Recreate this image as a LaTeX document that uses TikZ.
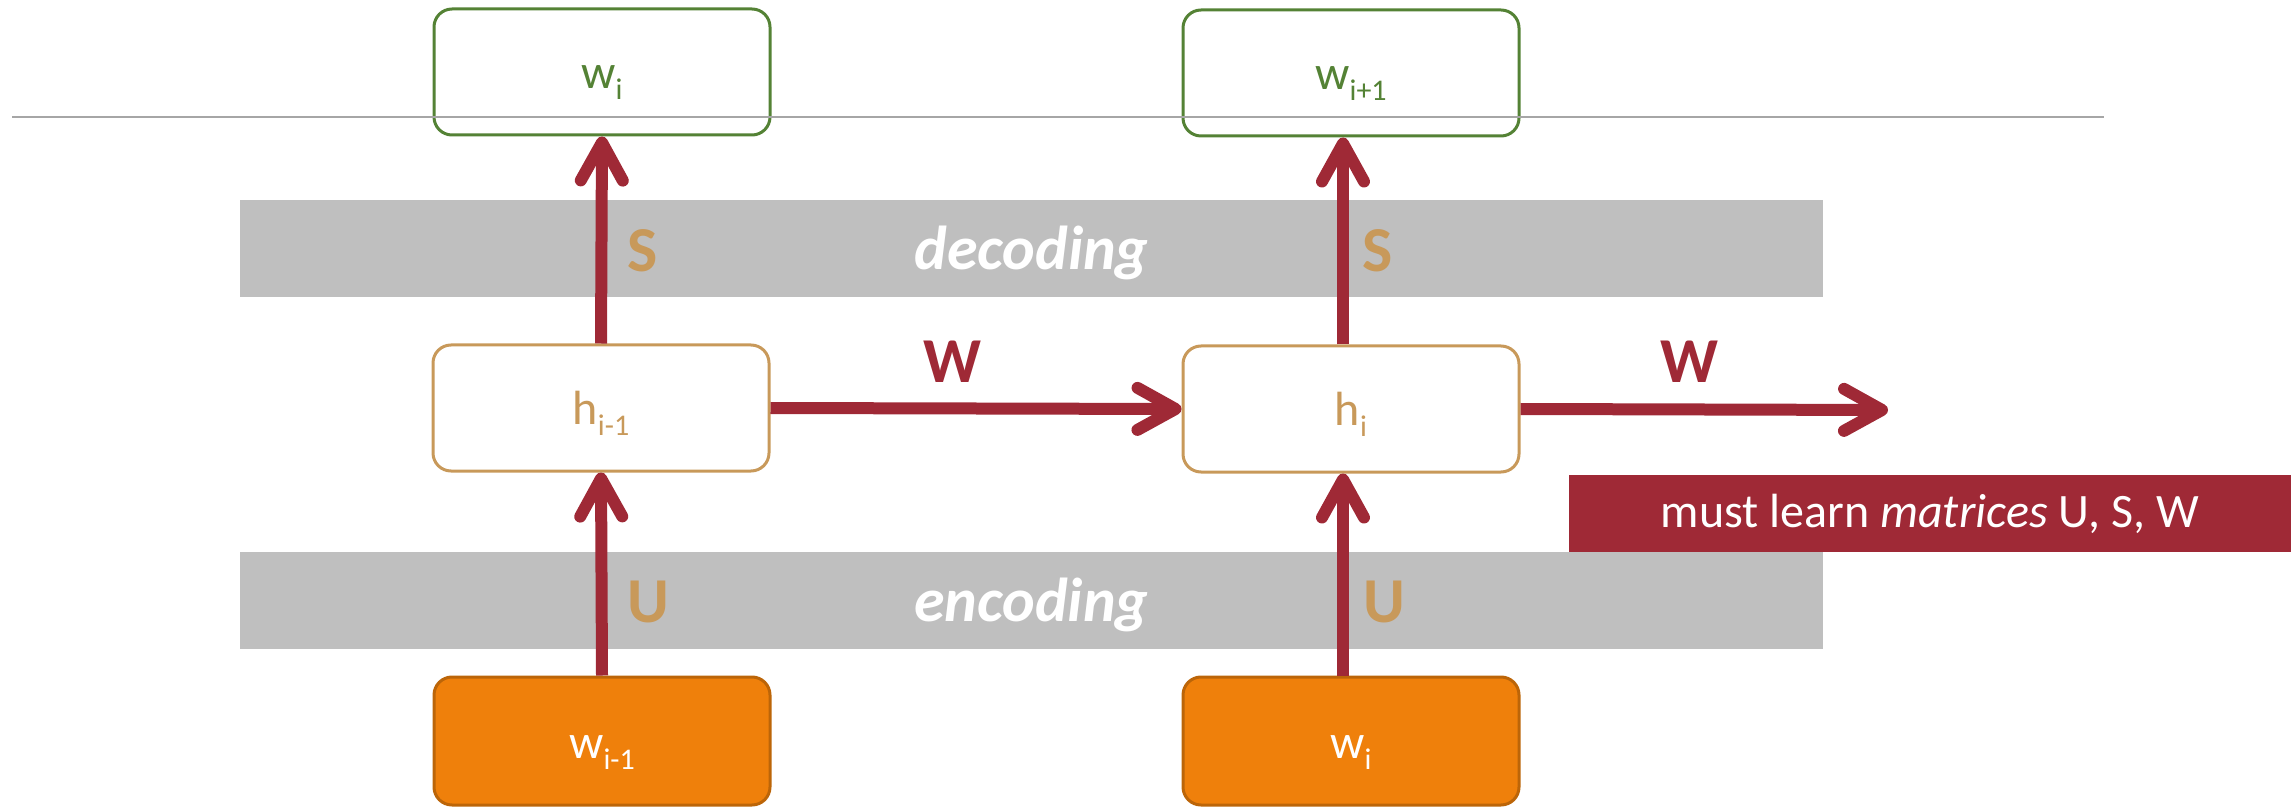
\documentclass[tikz,border=0pt]{standalone}
\usepackage{fontspec}
\setmainfont{Carlito}
\usepackage{tikz}
\usetikzlibrary{arrows.meta,positioning}
\definecolor{rnred}     {HTML}{9F2936}
\definecolor{rngreen}   {HTML}{548235}
\definecolor{rntan}     {HTML}{C8995A}
\definecolor{rnorange}  {HTML}{EF800B}
\definecolor{rnrust}    {HTML}{BC6508}
\definecolor{rngray}    {HTML}{BFBFBF}
\definecolor{rnrule}    {HTML}{A6A6A6}
\newcommand{\rnsub}[1]{\raisebox{-5.5pt}{\fontsize{15}{15}\selectfont #1}}
\tikzset{
  rnbox/.style={draw, fill=white, rounded corners=9pt, line width=1.5pt, inner sep=0pt,
                minimum width=168pt, minimum height=63pt, text height=20pt, text depth=3pt,
                font=\fontsize{24}{28}\selectfont},
  rnoutbox/.style={rnbox, draw=rngreen, text=rngreen},
  rnhidbox/.style={rnbox, draw=rntan, text=rntan},
  rninbox/.style={rnbox, draw=rnrust, fill=rnorange, text=white, minimum height=64pt},
  rnband/.style={fill=rngray, inner sep=0pt, minimum width=791.5pt, minimum height=48.5pt,
                 text=white, text height=24pt, text depth=3pt,
                 font=\fontsize{31}{36}\selectfont\bfseries\itshape},
  rnnote/.style={fill=rnred, inner sep=0pt, minimum width=361pt, minimum height=38.5pt,
                 text=white, font=\fontsize{24}{28}\selectfont},
  rnmat/.style={inner sep=0pt, font=\fontsize{32}{36}\selectfont\bfseries},
  rnedge/.style={-{Straight Barb[length=19pt, width=21pt, round]}, draw=rnred, line width=6pt},
  rnline/.style={draw=rnrule, line width=1pt},
}
\begin{document}
\begin{tikzpicture}[x=0.5pt,y=-0.5pt]
  \useasboundingbox (0,0) rectangle (2291,807);
  \node[rnband] (dec) at (1031.5,248.5) {decoding};
  \node[rnband] (enc) at (1031.5,600.5) {encoding};
  \node[rnmat,text=rntan] (s1) at (643,251)  {S};
  \node[rnmat,text=rntan] (s2) at (1378,251) {S};
  \node[rnmat,text=rntan] (u1) at (648,602)  {U};
  \node[rnmat,text=rntan] (u2) at (1384,602) {U};
  \node[rnmat,text=rnred] (w1) at (952,362)  {W};
  \node[rnmat,text=rnred] (w2) at (1689,362) {W};
  \node[rnnote] (note) at (1930,513.5) {must learn \textit{matrices} U, S, W};
  \node[rnoutbox] (out1) at (602,72)  {w\rnsub{i}};
  \node[rnoutbox] (out2) at (1351,73) {w\rnsub{i+1}};
  \node[rnhidbox] (hid1) at (601,408) {h\rnsub{i-1}};
  \node[rnhidbox] (hid2) at (1351,409) {h\rnsub{i}};
  \node[rninbox]  (in1) at (602,741)  {w\rnsub{i-1}};
  \node[rninbox]  (in2) at (1351,741) {w\rnsub{i}};
  \coordinate (wend) at (1888,410);
  \draw[rnedge] (in1.north) -- (hid1.south);
  \draw[rnedge] (hid1.north) -- (out1.south);
  \draw[rnedge] ([xshift=-4pt]in2.north) -- ([xshift=-4pt]hid2.south);
  \draw[rnedge] ([xshift=-4pt]hid2.north) -- ([xshift=-4pt]out2.south);
  \draw[rnedge] (hid1.east) -- (hid2.west);
  \draw[rnedge] (hid2.east) -- (wend);
  \coordinate (ruleL) at (12,117);
  \coordinate (ruleR) at (2104,117);
  \draw[rnline] (ruleL) -- (ruleR);
\end{tikzpicture}
\end{document}
